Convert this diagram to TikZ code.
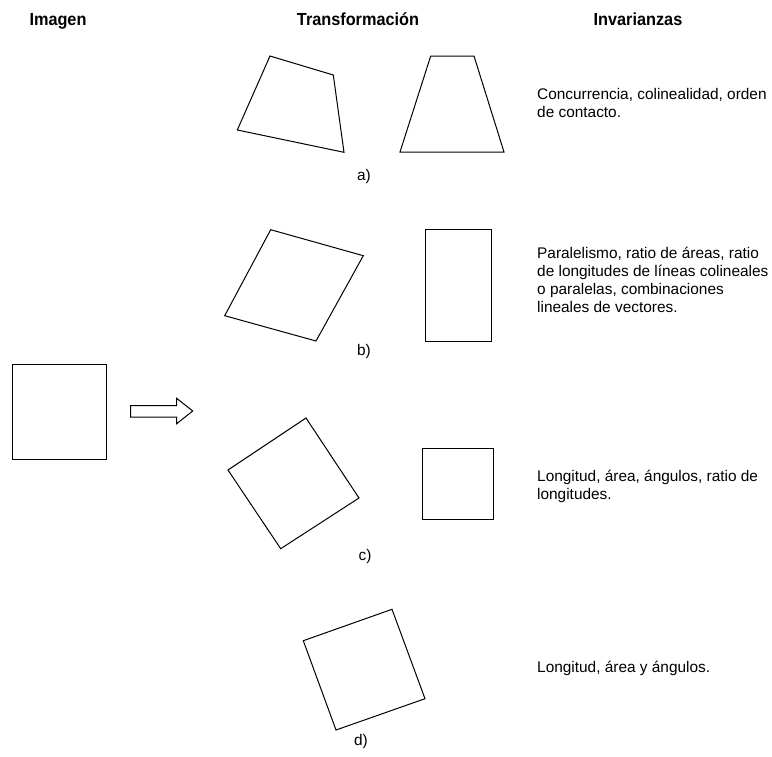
\documentclass[tikz,border=0pt]{standalone}
\usepackage{fontspec}
\setmainfont{Liberation Sans}
\newfontfamily\hdrfont[FakeStretch=0.93]{Liberation Sans}
\begin{document}
\begin{tikzpicture}[x=1pt,y=-1pt,
  shape line/.style={draw=black,line width=1pt,line join=miter},
  header/.style={font=\hdrfont\fontsize{17.5}{20}\selectfont\bfseries,inner sep=0pt,anchor=base},
  desc/.style={font=\fontsize{15.4}{18}\selectfont,inner sep=0pt,anchor=base west,align=left},
  lab/.style={font=\fontsize{15.4}{17}\selectfont,inner sep=0pt}]
\useasboundingbox (0,0) rectangle (772,756);
% headers
\node[header] (hImg) at (58,25) {Imagen};
\node[header] (hTr) at (358,25) {Transformación};
\node[header] (hInv) at (638,25) {Invarianzas};
% original square and arrow
\draw[shape line] (12,364.3) rectangle (106,459.7);
\draw[shape line] (130.7,405.7) -- (176.7,405.7) -- (176.7,398.3) -- (192.7,411) -- (176.7,423.7) -- (176.7,417) -- (130.7,417) -- cycle;
% a)
\draw[shape line] (270,56) -- (333.3,75) -- (344,152.3) -- (237.3,130) -- cycle;
\draw[shape line] (430.7,56) -- (474,56) -- (504,152) -- (400,152) -- cycle;
\node[lab] (la) at (364,177) {a)};
\node[desc] (ta) at (537,117) {Concurrencia, colinealidad, orden\\de contacto.};
% b)
\draw[shape line] (270.7,229.7) -- (363.3,255.7) -- (316,341) -- (224.7,315.7) -- cycle;
\draw[shape line] (425.3,229) rectangle (491.3,341);
\node[lab] (lb) at (364,352) {b)};
\node[desc] (tb) at (537,312) {Paralelismo, ratio de áreas, ratio\\de longitudes de líneas colineales\\o paralelas, combinaciones\\lineales de vectores.};
% c)
\draw[shape line] (306,418) -- (359,498) -- (280.7,548.7) -- (228,470) -- cycle;
\draw[shape line] (422,448) rectangle (493,519.3);
\node[lab] (lc) at (365,557) {c)};
\node[desc] (tc) at (537,499) {Longitud, área, ángulos, ratio de\\longitudes.};
% d)
\draw[shape line] (392,609.3) -- (425,698.7) -- (336,730) -- (303.3,640.7) -- cycle;
\node[lab] (ld) at (361,742) {d)};
\node[desc] (td) at (537,672) {Longitud, área y ángulos.};
\end{tikzpicture}
\end{document}
